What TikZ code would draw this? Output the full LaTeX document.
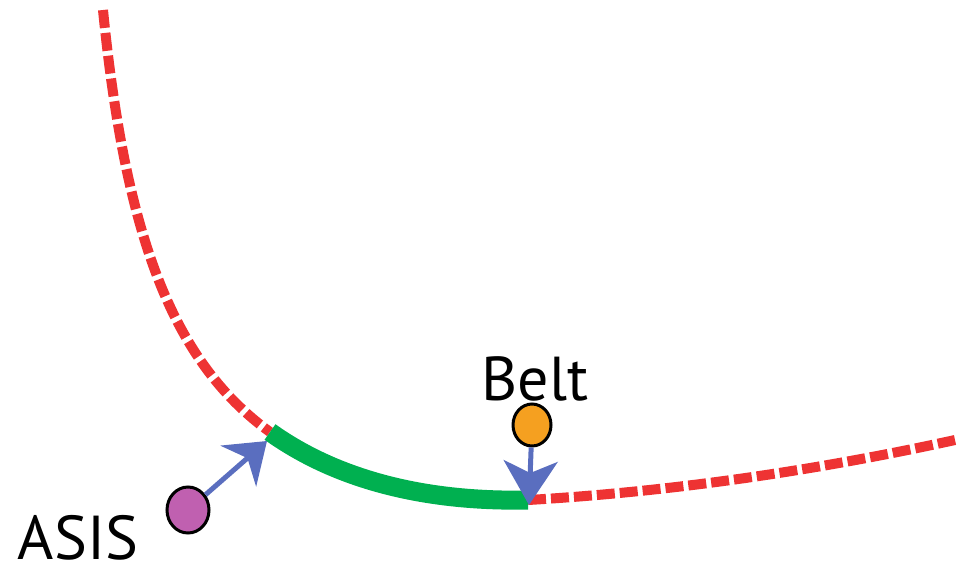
\documentclass[tikz,border=0pt]{standalone}
\usepackage{fontspec}
\setmainfont{PT Sans}
\usetikzlibrary{arrows.meta}
\definecolor{dashred}{HTML}{EE3333}
\definecolor{pathgreen}{HTML}{00B050}
\definecolor{arrowblue}{HTML}{5A6EBF}
\definecolor{asispurple}{HTML}{C060B0}
\definecolor{beltorange}{HTML}{F5A020}
\tikzset{
  reddash/.style={draw=dashred, line width=10pt, dash pattern=on 18pt off 5pt},
  greenseg/.style={draw=pathgreen, line width=19pt},
  bluearrow/.style={draw=arrowblue, line width=5pt, -{Stealth[length=#1,width=54pt,inset=12pt,fill=arrowblue]}},
  landmark/.style={ellipse, draw=black, line width=3pt, inner sep=0pt},
  lbl/.style={anchor=base, inner sep=0pt, font=\fontsize{62}{62}\selectfont}
}
\usetikzlibrary{shapes.geometric}
\begin{document}
\begin{tikzpicture}[x=1pt,y=-1pt]
\useasboundingbox (0,0) rectangle (960,570);
\coordinate (top) at (103,10);
\coordinate (g1) at (270,432);
\coordinate (g2) at (528,500);
\coordinate (right) at (955,440);
\coordinate (asistip) at (267,441);
\coordinate (belttip) at (529,505);
\draw[reddash] (top) .. controls (125,230) and (170,360) .. (g1);
\draw[reddash] (g2) .. controls (700,490) and (850,463) .. (right);
\draw[greenseg] (g1) .. controls (340,482) and (430,502) .. (g2);
\node[landmark, fill=asispurple, minimum width=42pt, minimum height=46pt] (asis) at (188,510) {};
\node[landmark, fill=beltorange, minimum width=38pt, minimum height=42pt] (belt) at (532,425) {};
\draw[bluearrow=38pt] (asis) -- (asistip);
\draw[bluearrow=44pt] (belt) -- (belttip);
\node[lbl] (asislabel) at (78,559) {ASIS};
\node[lbl] (beltlabel) at (535,400) {Belt};
\end{tikzpicture}
\end{document}
